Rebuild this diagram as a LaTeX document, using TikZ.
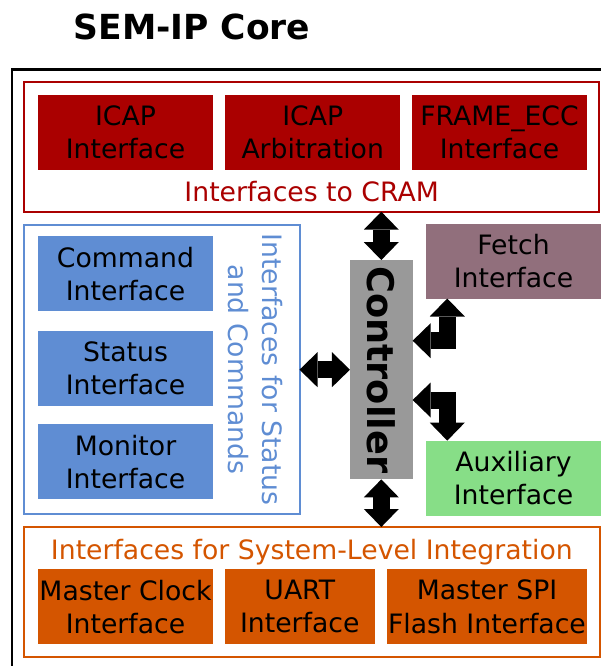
\documentclass[tikz,border=0pt]{standalone}
\usepackage{fontspec}
\setmainfont{DejaVu Sans}
\usetikzlibrary{arrows.meta}
\definecolor{cramred}{HTML}{AA0000}
\definecolor{cmdblue}{HTML}{5F8DD3}
\definecolor{fetchmauve}{HTML}{916F7C}
\definecolor{auxgreen}{HTML}{87DE87}
\definecolor{sysorange}{HTML}{D45500}
\definecolor{ctrlgray}{HTML}{999999}
\newcommand{\boxfont}{\fontsize{26.67}{33.3}\selectfont}
\tikzset{
  unit/.style={inner sep=0pt,outer sep=0pt,minimum width=175.5pt,minimum height=75pt,align=center,font=\boxfont},
  group/.style={draw,line width=2pt,inner sep=0pt,outer sep=0pt},
  grouplabel/.style={anchor=base,inner sep=0pt,font=\boxfont},
  bigarrow/.style={line width=17pt,line join=miter,>={Triangle[length=18pt,width=35pt,line width=0pt]},<->}
}
\begin{document}
\begin{tikzpicture}[x=1pt,y=-1pt]
\useasboundingbox (0,0) rectangle (601,666);
\clip (0,0) rectangle (601,666);
\node[anchor=base west,inner sep=0pt,font=\fontsize{34.5}{40}\selectfont\bfseries] (title) at (73.5,39.3) {SEM-IP Core};
\draw[line width=2.5pt] (12,69.5) rectangle (640,700);

\node[group,draw=cramred,minimum width=574.7pt,minimum height=129.4pt] (cram) at (311.65,147) {};
\node[unit,fill=cramred] (icap) at (125.5,132.3) {ICAP\\Interface};
\node[unit,fill=cramred] (arb) at (312.7,132.3) {ICAP\\Arbitration};
\node[unit,fill=cramred] (frameecc) at (499.5,132.3) {FRAME\_ECC\\Interface};
\node[grouplabel,text=cramred] (cramlabel) at (311.65,201.7) {Interfaces to CRAM};

\node[group,draw=cmdblue,minimum width=275.2pt,minimum height=289pt] (statcmd) at (161.9,369.5) {};
\node[unit,fill=cmdblue] (cmdif) at (125.5,273.8) {Command\\Interface};
\node[unit,fill=cmdblue] (statif) at (125.5,368.2) {Status\\Interface};
\node[unit,fill=cmdblue] (monif) at (125.5,461.8) {Monitor\\Interface};
\node[inner sep=0pt,align=center,rotate=-90,text=cmdblue,font=\boxfont] (statcmdlabel) at (255.5,369.5) {Interfaces for Status\\and Commands};

\node[fill=ctrlgray,inner sep=0pt,outer sep=0pt,minimum width=62.7pt,minimum height=219.3pt] (ctrl) at (381.3,369.7) {};
\node[inner sep=0pt,rotate=-90,font=\fontsize{36.7}{44}\selectfont\bfseries] (ctrllabel) at (ctrl.center) {Controller};

\node[unit,fill=fetchmauve] (fetch) at (513.5,261) {Fetch\\Interface};
\node[unit,fill=auxgreen,minimum height=75.3pt] (aux) at (513.5,478.3) {Auxiliary\\Interface};

\node[group,draw=sysorange,minimum width=575.2pt,minimum height=130pt] (sysint) at (311.9,592) {};
\node[grouplabel,text=sysorange] (syslabel) at (311.9,559) {Interfaces for System-Level Integration};
\node[unit,fill=sysorange] (clk) at (125.5,606.8) {Master Clock\\Interface};
\node[unit,fill=sysorange,minimum width=150.3pt] (uart) at (299.8,606.8) {UART\\Interface};
\node[unit,fill=sysorange,minimum width=200.6pt] (spi) at (487,606.8) {Master SPI\\Flash Interface};

\draw[bigarrow] (ctrl.north) -- (ctrl.north |- cram.south);
\draw[bigarrow] (ctrl.south) -- (ctrl.south |- sysint.north);
\draw[bigarrow] (ctrl.west) -- (ctrl.west -| statcmd.east);
\draw[bigarrow] ([yshift=29pt]ctrl.east) -| ([xshift=21.5pt]fetch.south west);
\draw[bigarrow] ([yshift=-30.3pt]ctrl.east) -| ([xshift=21.5pt]aux.north west);
\end{tikzpicture}
\end{document}
